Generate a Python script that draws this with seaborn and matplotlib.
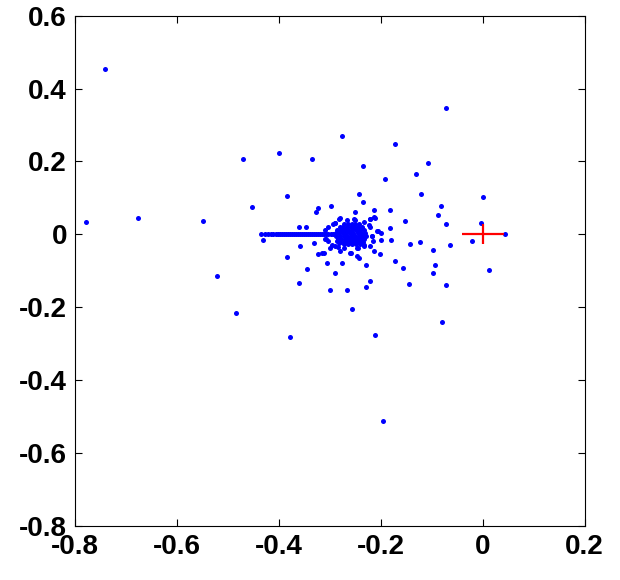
import numpy as np
import pandas as pd
import matplotlib
matplotlib.use("Agg")
import matplotlib.pyplot as plt
import seaborn as sns

# scattered points
scatter_x = [-0.741, -0.779, -0.676, -0.550, -0.521, -0.484, -0.470, -0.453, -0.401, -0.384,
             -0.431, -0.384, -0.378, -0.361, -0.346, -0.358, -0.360, -0.347, -0.336, -0.327,
             -0.324, -0.332, -0.323, -0.312, -0.305, -0.300, -0.291, -0.299, -0.276, -0.276,
             -0.266, -0.256, -0.248, -0.258, -0.229, -0.229, -0.221, -0.214, -0.201, -0.211,
             -0.196, -0.173, -0.180, -0.199, -0.156, -0.145, -0.143, -0.124, -0.097, -0.093,
             -0.097, -0.072, -0.081, -0.065, -0.022, 0.012, 0.044, -0.004, 0.000, -0.072,
             -0.073, -0.089, -0.083, -0.107, -0.122, -0.131, -0.152, -0.173, -0.193, -0.182,
             -0.183, -0.236, -0.244, -0.236, -0.250, -0.213, -0.213, -0.222, -0.233, -0.221,
             -0.206, -0.199, -0.218, -0.281, -0.291, -0.310, -0.308, -0.297, -0.287, -0.280,
             -0.285, -0.253, -0.234, -0.246]
scatter_y = [0.453, 0.033, 0.044, 0.036, -0.115, -0.217, 0.208, 0.076, 0.222, 0.104,
             -0.017, -0.063, -0.282, -0.134, -0.096, -0.032, 0.021, 0.021, 0.206, 0.060,
             0.071, -0.024, -0.055, -0.050, -0.079, -0.153, -0.107, 0.079, 0.269, -0.079,
             -0.153, -0.205, -0.059, -0.050, -0.085, -0.145, -0.127, -0.045, -0.053, -0.277,
             -0.513, -0.074, -0.016, -0.016, -0.093, -0.137, -0.027, -0.022, -0.042, -0.085,
             -0.105, -0.140, -0.242, -0.029, -0.019, -0.098, 0.000, 0.032, 0.102, 0.348,
             0.029, 0.052, 0.079, 0.195, 0.110, 0.165, 0.036, 0.247, 0.153, 0.066,
             0.017, 0.187, 0.110, 0.088, 0.060, 0.066, 0.047, 0.041, 0.034, 0.019,
             0.010, 0.004, -0.005, 0.044, 0.031, 0.011, -0.014, -0.029, -0.019, -0.045,
             -0.036, 0.041, -0.029, -0.037]

# points around the edge of the dense blob
edge_x = [-0.303, -0.295, -0.290, -0.282, -0.267, -0.251, -0.222, -0.211, -0.224, -0.208,
          -0.217, -0.215, -0.221, -0.234, -0.247, -0.244, -0.260, -0.273, -0.283, -0.290,
          -0.304, -0.309, -0.300, -0.316]
edge_y = [0.019, 0.027, 0.032, 0.043, 0.038, 0.038, 0.041, 0.045, 0.025, 0.009,
          -0.005, -0.019, -0.033, -0.033, -0.037, -0.065, -0.051, -0.037, -0.023, -0.033,
          -0.019, -0.014, -0.037, -0.051]

# dense blob near (-0.26, 0)
blob_x = [-0.272, -0.264, -0.257, -0.250, -0.243,
          -0.281, -0.274, -0.267, -0.259, -0.252, -0.245, -0.238,
          -0.286, -0.279, -0.271, -0.264, -0.256, -0.249, -0.242, -0.234,
          -0.289, -0.282, -0.275, -0.268, -0.261, -0.254, -0.246, -0.239, -0.231,
          -0.288, -0.281, -0.273, -0.266, -0.258, -0.251, -0.244, -0.236, -0.229,
          -0.285, -0.278, -0.270, -0.262, -0.255, -0.248, -0.240, -0.233,
          -0.281, -0.273, -0.266, -0.258, -0.251, -0.243, -0.236,
          -0.272, -0.264, -0.257, -0.249, -0.242]
blob_y = [0.028] * 5 + [0.020] * 7 + [0.012] * 8 + [0.004] * 9 + \
         [-0.004] * 9 + [-0.012] * 8 + [-0.020] * 7 + [-0.028] * 5

# the run of points along y = 0
line_x = [-0.435, -0.427, -0.421, -0.4155, -0.411, -0.407, -0.403, -0.399, -0.395, -0.391,
          -0.387, -0.383, -0.379, -0.375, -0.371, -0.367, -0.363, -0.359, -0.355, -0.351,
          -0.347, -0.343, -0.339, -0.335, -0.331, -0.327, -0.323, -0.319, -0.315, -0.311,
          -0.307, -0.303, -0.299, -0.295, -0.291]
line_y = [0.0] * len(line_x)

# red cross: centre and half widths
cross_x, cross_y = [0.0], [0.0]
cross_dx, cross_dy = [0.041], [0.028]

xticks = [-0.8, -0.6, -0.4, -0.2, 0, 0.2]
yticks = [0.6, 0.4, 0.2, 0, -0.2, -0.4, -0.6, -0.8]

df = pd.DataFrame({
    "x": scatter_x + edge_x + blob_x + line_x,
    "y": scatter_y + edge_y + blob_y + line_y,
})

sns.set_theme(style="white")
plt.rcParams["font.family"] = ["Liberation Sans", "DejaVu Sans"]
plt.rcParams["axes.unicode_minus"] = False

fig = plt.figure(figsize=(6.2, 5.8), dpi=100)
ax = fig.add_axes([0.1215, 0.0936, 0.8216, 0.8793])

sns.scatterplot(data=df, x="x", y="y", color="#0000ff", marker="o", s=13,
                linewidth=0, ax=ax, legend=False)
ax.errorbar(cross_x, cross_y, xerr=cross_dx, yerr=cross_dy, fmt="none",
            ecolor="#ff0000", elinewidth=1.6, capsize=0)

ax.set_xlim(-0.8, 0.2)
ax.set_ylim(-0.8, 0.6)
ax.set_xticks(xticks)
ax.set_yticks(yticks)
ax.set_xticklabels([f"{t:g}" for t in xticks])
ax.set_yticklabels([f"{t:g}" for t in yticks])
ax.set_xlabel("")
ax.set_ylabel("")
ax.tick_params(direction="in", length=5, width=0.8, color="black",
               top=True, right=True, bottom=True, left=True,
               labelsize=20, labelcolor="black", pad=6)
for lab in ax.get_xticklabels() + ax.get_yticklabels():
    lab.set_fontweight("bold")
for sp in ax.spines.values():
    sp.set_color("black")
    sp.set_linewidth(0.8)

fig.savefig("out.png", dpi=100, facecolor="white")
